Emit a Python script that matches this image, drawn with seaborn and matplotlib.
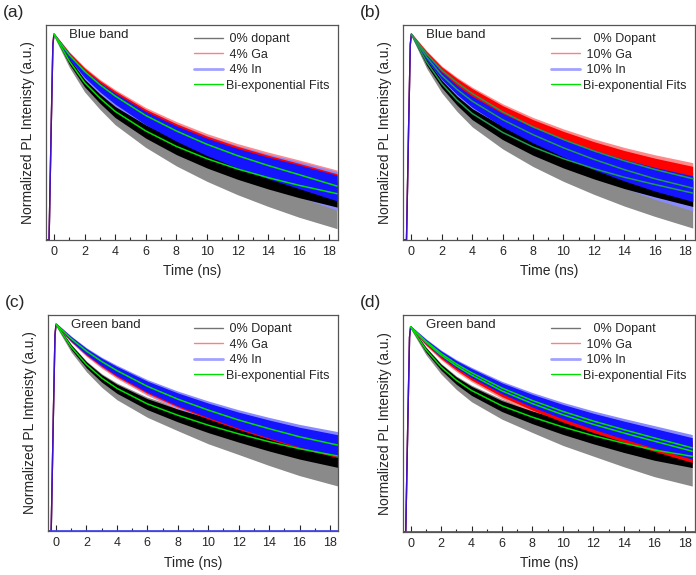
import matplotlib.pyplot as plt
import seaborn as sns
from matplotlib.lines import Line2D
from matplotlib.ticker import MultipleLocator

# read-off times (ns) for decay curves
t_read = [0, 1, 2, 3, 4, 6, 8, 10, 12, 14, 16, 18.5]
# rising edge before the peak
t_rise = [-0.6, -0.32, -0.18, -0.07]
v_rise = [0.0, 0.0, 0.55, 0.95]

# (a) blue band, 4% doping
a_undoped = [1.0, 0.87, 0.765, 0.69, 0.625, 0.53, 0.455, 0.395, 0.345, 0.303, 0.266, 0.225]
a_ga = [1.0, 0.90, 0.82, 0.755, 0.70, 0.605, 0.53, 0.465, 0.41, 0.362, 0.318, 0.262]
a_in = [1.0, 0.895, 0.81, 0.745, 0.69, 0.595, 0.52, 0.455, 0.40, 0.353, 0.31, 0.255]
# (b) blue band, 10% doping
b_undoped = [1.0, 0.865, 0.76, 0.68, 0.615, 0.523, 0.452, 0.395, 0.347, 0.305, 0.27, 0.228]
b_ga = [1.0, 0.905, 0.825, 0.765, 0.712, 0.623, 0.55, 0.488, 0.433, 0.385, 0.343, 0.298]
b_in = [1.0, 0.89, 0.80, 0.732, 0.675, 0.585, 0.512, 0.448, 0.392, 0.342, 0.298, 0.252]
# (c) green band, 4% doping
c_undoped = [1.0, 0.89, 0.805, 0.74, 0.69, 0.615, 0.56, 0.512, 0.47, 0.432, 0.398, 0.363]
c_ga = [1.0, 0.928, 0.866, 0.815, 0.77, 0.694, 0.632, 0.578, 0.531, 0.489, 0.45, 0.41]
c_in = [1.0, 0.93, 0.87, 0.82, 0.776, 0.70, 0.638, 0.585, 0.537, 0.495, 0.456, 0.416]
# (d) green band, 10% doping
d_undoped = [1.0, 0.89, 0.805, 0.74, 0.69, 0.615, 0.56, 0.512, 0.47, 0.433, 0.4, 0.369]
d_ga = [1.0, 0.925, 0.862, 0.81, 0.765, 0.688, 0.626, 0.572, 0.525, 0.483, 0.443, 0.394]
d_in = [1.0, 0.93, 0.87, 0.82, 0.777, 0.702, 0.641, 0.588, 0.541, 0.499, 0.459, 0.41]

# scatter of the measured traces around the fits (above / below / spikes below)
noise_hi_ab = [0.005, 0.012, 0.016, 0.02, 0.024, 0.03, 0.035, 0.04, 0.045, 0.05, 0.055, 0.06]
noise_lo_ab = [0.005, 0.015, 0.02, 0.025, 0.03, 0.035, 0.04, 0.045, 0.05, 0.055, 0.06, 0.065]
spike_lo_ab = [0.01, 0.03, 0.045, 0.055, 0.065, 0.08, 0.095, 0.11, 0.125, 0.14, 0.155, 0.17]
spike_col_ab = [0.008, 0.02, 0.03, 0.035, 0.04, 0.05, 0.06, 0.07, 0.08, 0.09, 0.1, 0.11]
noise_hi_cd = [0.005, 0.01, 0.013, 0.016, 0.02, 0.025, 0.03, 0.034, 0.038, 0.042, 0.046, 0.05]
noise_lo_cd = [0.005, 0.012, 0.016, 0.02, 0.024, 0.028, 0.032, 0.036, 0.04, 0.045, 0.05, 0.055]
spike_lo_cd = [0.01, 0.025, 0.035, 0.045, 0.055, 0.065, 0.075, 0.09, 0.1, 0.115, 0.13, 0.145]
spike_col_cd = [0.008, 0.016, 0.022, 0.028, 0.032, 0.038, 0.044, 0.05, 0.056, 0.062, 0.068, 0.075]

panels = [
    dict(tag="(a)", band="Blue band", ylabel="Normalized PL Intenisty (a.u.)",
         labels=[" 0% dopant", " 4% Ga", " 4% In", "Bi-exponential Fits"],
         curves=[a_undoped, a_ga, a_in], fits=[a_undoped, a_ga],
         noise=(noise_hi_ab, noise_lo_ab, spike_lo_ab, spike_col_ab), fitc="#00e000",
         rect=[46, 25, 338, 240], xlim=(-0.52, 18.56), ytop=1.045, base=False),
    dict(tag="(b)", band="Blue band", ylabel="Normalized PL Intenisty (a.u.)",
         labels=["   0% Dopant", " 10% Ga", " 10% In", "Bi-exponential Fits"],
         curves=[b_undoped, b_ga, b_in], fits=[b_undoped, b_in, b_ga],
         noise=(noise_hi_ab, noise_lo_ab, spike_lo_ab, spike_col_ab), fitc="#1f9a50",
         rect=[403, 25, 695, 240], xlim=(-0.55, 18.65), ytop=1.045, base=False),
    dict(tag="(c)", band="Green band", ylabel="Normalized PL Intneisty (a.u.)",
         labels=[" 0% Dopant", " 4% Ga", " 4% In", "Bi-exponential Fits"],
         curves=[c_undoped, c_ga, c_in], fits=[c_undoped, c_in],
         noise=(noise_hi_cd, noise_lo_cd, spike_lo_cd, spike_col_cd), fitc="#00e000",
         rect=[48, 315, 338, 531], xlim=(-0.53, 18.53), ytop=1.045, base=True),
    dict(tag="(d)", band="Green band", ylabel="Normalized PL Intensity (a.u.)",
         labels=["   0% Dopant", " 10% Ga", " 10% In", "Bi-exponential Fits"],
         curves=[d_undoped, d_ga, d_in], fits=[d_undoped, d_ga, d_in],
         noise=(noise_hi_cd, noise_lo_cd, spike_lo_cd, spike_col_cd), fitc="#00e000",
         rect=[403, 315, 695, 532], xlim=(-0.5, 18.68), ytop=1.058, base=True),
]

sns.set_style("white")
plt.rcParams['font.family'] = ['Liberation Sans', 'DejaVu Sans']

W, H = 696, 575
fig = plt.figure(figsize=(W / 100, H / 100), dpi=100)
core_colors = ["#000000", "#ff0000", "#1414ff"]
fringe_colors = ["#8a8a8a", "#ff8a8a", "#8a8aff"]

for p in panels:
    x0, y0, x1, y1 = p["rect"]
    ax = fig.add_axes([x0 / W, 1 - y1 / H, (x1 - x0) / W, (y1 - y0) / H])
    hi, lo, sp, spc = p["noise"]
    # light spiky fringes first, then solid cores
    for i, (vals, col) in enumerate(zip(p["curves"], fringe_colors)):
        spread = sp if i == 0 else spc
        upper = [v + h * 1.3 for v, h in zip(vals, hi)]
        spikes = [v - s for v, s in zip(vals, spread)]
        ax.fill_between(t_read, spikes, upper, color=col, lw=0)
    for vals, col in zip(p["curves"], core_colors):
        upper = [v + h for v, h in zip(vals, hi)]
        lower = [v - l for v, l in zip(vals, lo)]
        ax.fill_between(t_read, lower, upper, color=col, lw=0)
        sns.lineplot(x=t_rise + t_read[:1], y=v_rise + vals[:1], ax=ax,
                     color=col, lw=1, alpha=0.8)
    if p["base"]:
        ax.axhline(0, color="#3a3aff", lw=1.2)
    for vals in p["fits"]:
        sns.lineplot(x=t_read, y=vals, ax=ax, color=p["fitc"], lw=1.1)

    ax.set_xlim(*p["xlim"])
    ax.set_ylim(0, p["ytop"])
    ax.set_yticks([])
    ax.xaxis.set_major_locator(MultipleLocator(2))
    ax.xaxis.set_minor_locator(MultipleLocator(1))
    ax.tick_params(axis="x", which="major", direction="in", length=4,
                   width=0.8, labelsize=9, pad=4, bottom=True)
    ax.tick_params(axis="x", which="minor", direction="in", length=2.5,
                   width=0.8, bottom=True)
    for s in ax.spines.values():
        s.set_color("#555555")
        s.set_linewidth(0.9)
    ax.set_xlabel("Time (ns)", fontsize=10, labelpad=5)
    ax.set_ylabel(p["ylabel"], fontsize=10, labelpad=8)
    ax.text(0.08, 0.98, p["band"], transform=ax.transAxes, fontsize=9.5,
            va="top", ha="left")
    fig.text((x0 - 43) / W, 1 - 13 / H - (y0 - 25) / H, p["tag"],
             fontsize=12.5, va="center", ha="left")

    handles = [Line2D([], [], color="#000000", lw=1, alpha=0.55),
               Line2D([], [], color="#ff0000", lw=1, alpha=0.5),
               Line2D([], [], color="#3030ff", lw=2, alpha=0.45),
               Line2D([], [], color="#00e000", lw=1)]
    ax.legend(handles, p["labels"], loc="upper right", frameon=False,
              fontsize=9, handlelength=2.3, labelspacing=0.28,
              borderaxespad=0.25, handletextpad=0.3)

fig.savefig("out.png", dpi=100)
